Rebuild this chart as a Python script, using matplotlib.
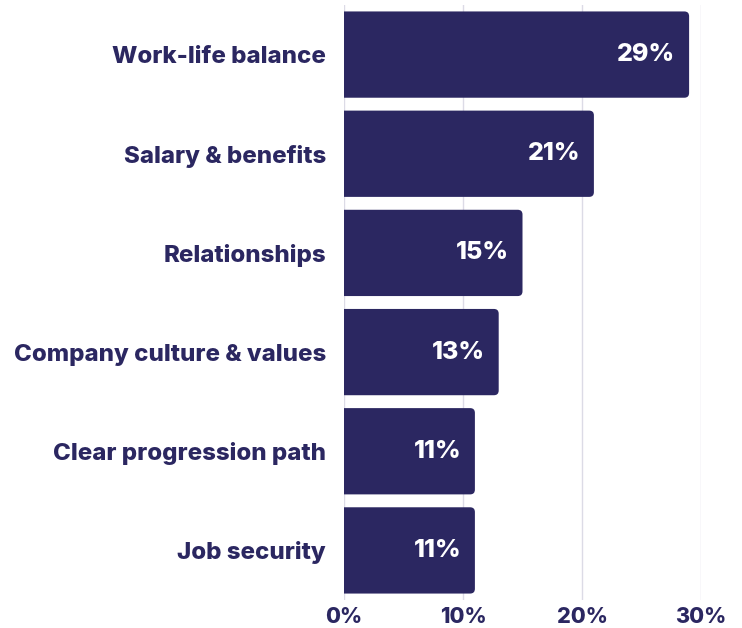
import matplotlib.pyplot as plt
from matplotlib.patches import FancyBboxPatch

categories = ['Work-life balance', 'Salary & benefits', 'Relationships',
              'Company culture & values', 'Clear progression path', 'Job security']
values = [29, 21, 15, 13, 11, 11]
ticks = [0, 10, 20, 30]
tick_labels = ['0%', '10%', '20%', '30%']

navy = '#2B2761'
plt.rcParams['font.family'] = ['Inter', 'DejaVu Sans']

fig = plt.figure(figsize=(7.42, 6.28), dpi=100)
ax = fig.add_axes([344 / 742, 1 - 600 / 628, (701 - 344) / 742, (600 - 5) / 628])

bar_h = 0.87
ypos = list(range(len(categories)))
for y, v in zip(ypos, values):
    box = FancyBboxPatch((-1, y - bar_h / 2), v + 1, bar_h,
                         boxstyle='round,pad=0,rounding_size=0.4',
                         mutation_aspect=0.12, facecolor=navy, edgecolor='none', zorder=3)
    ax.add_patch(box)
    ax.annotate(f'{v}%', (v, y), xytext=(-10, 0), textcoords='offset points',
                ha='right', va='center', color='white', fontsize=18, fontweight='heavy', zorder=4)

ax.set_xlim(0, 30)
ax.set_ylim(len(categories) - 0.5, -0.5)
ax.set_yticks(ypos)
ax.set_yticklabels(categories, fontsize=17.3, fontweight='heavy', color=navy)
ax.set_xticks(ticks)
ax.set_xticklabels(tick_labels, fontsize=15.5, fontweight='heavy', color=navy)
ax.tick_params(length=0, axis='y', pad=13)
ax.tick_params(length=0, axis='x', pad=5)
ax.xaxis.grid(True, color='#DCDBE6', linewidth=1, zorder=0)
ax.set_axisbelow(True)
for s in ax.spines.values():
    s.set_visible(False)

fig.savefig('out.png', dpi=100)
